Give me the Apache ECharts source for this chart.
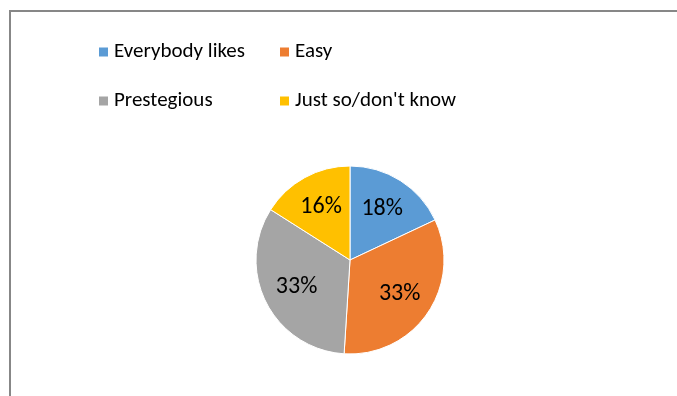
<!DOCTYPE html>
<html>
<head>
<meta charset="utf-8">
<script src="https://cdn.jsdelivr.net/npm/echarts@6/dist/echarts.min.js"></script>
<style>
  html, body { margin: 0; padding: 0; background: #fff; }
  #chart { width: 677px; height: 396px; }
</style>
</head>
<body>
<div id="chart"></div>
<script>
// Reasons for choosing a subject, share of answers (%)
const categories = ['Everybody likes', 'Easy', 'Prestegious', "Just so/don't know"];
const shares = [18, 33, 33, 16];
const colors = ['#5B9BD5', '#ED7D31', '#A5A5A5', '#FFC000'];

const font = 'Carlito, "Liberation Sans Narrow", Lato, sans-serif';
const pieData = categories.map((name, i) => ({ name, value: shares[i] }));

const legendBase = {
  orient: 'horizontal',
  left: 97,
  padding: 0,
  itemWidth: 11,
  itemHeight: 11,
  itemGap: 14,
  icon: 'rect',
  selectedMode: false,
  textStyle: { fontFamily: font, fontSize: 21, color: '#000', width: 150, lineHeight: 22 }
};

const chart = echarts.init(document.getElementById('chart'), null, { renderer: 'canvas' });
chart.setOption({
  animation: false,
  color: colors,
  graphic: [{
    type: 'rect',
    shape: { x: 10, y: 11, width: 720, height: 420 },
    style: { fill: 'none', stroke: '#878787', lineWidth: 2 },
    silent: true
  }],
  legend: [
    Object.assign({}, legendBase, { top: 41, data: categories.slice(0, 2) }),
    Object.assign({}, legendBase, { top: 90, data: categories.slice(2, 4) })
  ],
  series: [
    {
      type: 'pie',
      center: [350, 260],
      radius: [0, 94],
      startAngle: 90,
      clockwise: true,
      silent: true,
      data: pieData,
      itemStyle: { borderColor: '#fff', borderWidth: 1 },
      label: { show: false },
      labelLine: { show: false }
    },
    {
      // label carrier: same slices, wider radius so inside labels sit further out
      type: 'pie',
      center: [350, 260],
      radius: [0, 114],
      startAngle: 90,
      clockwise: true,
      silent: true,
      data: pieData,
      itemStyle: { color: 'rgba(0,0,0,0)', borderWidth: 0 },
      label: {
        show: true,
        position: 'inside',
        formatter: p => p.value + '%',
        fontFamily: font,
        fontSize: 24,
        color: '#000'
      },
      labelLine: { show: false }
    }
  ]
});
</script>
</body>
</html>
